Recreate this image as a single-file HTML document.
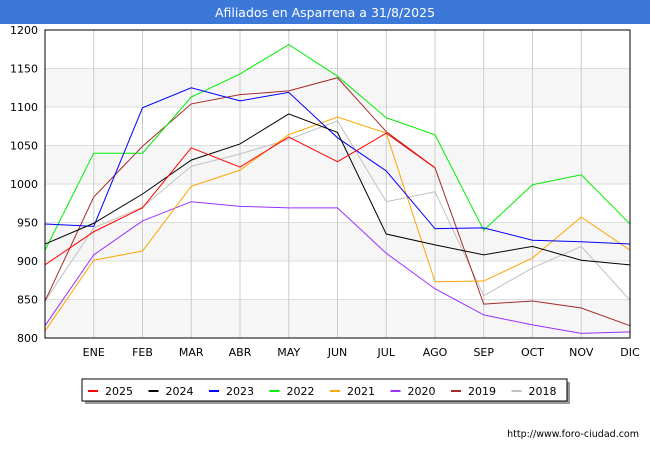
<!DOCTYPE html>
<html><head><meta charset="utf-8"><style>
body{margin:0;width:650px;height:450px;background:#fff;font-family:"DejaVu Sans","Liberation Sans",sans-serif;overflow:hidden}
svg text{font-family:"DejaVu Sans","Liberation Sans",sans-serif}
</style></head><body>
<svg width="650" height="450" xmlns="http://www.w3.org/2000/svg">
<rect x="0" y="0" width="650" height="24" fill="#3c78d8"/>
<text x="325" y="17" text-anchor="middle" fill="#fff" font-size="12.5">Afiliados en Asparrena a 31/8/2025</text>
<g id="bands"></g><g id="grid"></g><g id="yt"></g><g id="xt"></g><g id="lines"></g>
<rect x="45" y="30" width="585" height="308" fill="none" stroke="#000" stroke-width="1"/>
<rect x="85" y="382" width="485" height="22" fill="#999"/>
<rect x="82" y="379" width="485" height="22" fill="#fff" stroke="#000"/>
<g id="leg"></g>
<text x="639" y="437" text-anchor="end" font-size="9.5" fill="#000">http://www.foro-ciudad.com</text>
</svg>
<script>
const months=["","ENE","FEB","MAR","ABR","MAY","JUN","JUL","AGO","SEP","OCT","NOV","DIC"];
const yTicks=[800,850,900,950,1000,1050,1100,1150,1200];
const names=["2025","2024","2023","2022","2021","2020","2019","2018"];
const colors=["#ff0000","#000000","#0000ff","#00ee00","#ffa500","#9b30ff","#a52a2a","#c0c0c0"];
const s2025=[895,938,969,1047,1022,1061,1029,1066,1021];
const s2024=[922,949,987,1031,1052,1091,1067,935,921,908,919,901,895];
const s2023=[948,945,1099,1125,1108,1119,1060,1017,942,943,927,925,922];
const s2022=[914,1040,1040,1113,1143,1181,1140,1086,1064,940,999,1012,948];
const s2021=[809,901,913,997,1018,1064,1087,1066,873,874,904,957,914];
const s2020=[816,908,952,977,971,969,969,910,864,830,817,806,808];
const s2019=[848,983,1049,1104,1116,1121,1138,1068,1021,844,848,839,816];
const s2018=[848,943,970,1023,1039,1058,1082,977,990,855,891,919,849];
const series=[s2025,s2024,s2023,s2022,s2021,s2020,s2019,s2018];
const NS="http://www.w3.org/2000/svg";
const X=i=>45+i*(585/12), Y=v=>338-(v-800)*308/400;
function mk(p,t,a){const e=document.createElementNS(NS,t);for(const k in a)e.setAttribute(k,a[k]);document.getElementById(p).appendChild(e);return e;}
for(let i=0;i<yTicks.length-1;i++){if(i%2==0){const b=mk('bands','rect',{x:45,y:Y(yTicks[i+1]),width:585,height:Y(yTicks[i])-Y(yTicks[i+1]),fill:'#f6f6f6'});

}}
yTicks.forEach(v=>{const l=mk('grid','line',{x1:45,x2:630,y1:Y(v),y2:Y(v),stroke:'#ddd'});


const t=mk('yt','text',{x:38,y:Y(v)+4,'text-anchor':'end','font-size':11,fill:'#000'});t.textContent=v;

});
months.forEach((m,i)=>{if(i>0){const l=mk('grid','line',{x1:X(i),x2:X(i),y1:30,y2:338,stroke:'#ccc'});


const t=mk('xt','text',{x:X(i),y:356,'text-anchor':'middle','font-size':11,fill:'#000'});t.textContent=m;

}});
for(let k=series.length-1;k>=0;k--){const p=mk('lines','polyline',{points:series[k].map((v,i)=>X(i)+','+Y(v)).join(' '),fill:'none',stroke:colors[k],'stroke-width':1});

}
names.forEach((n,k)=>{const x0=88+k*60.5;const l=mk('leg','line',{x1:x0,x2:x0+10,y1:391,y2:391,stroke:colors[k],'stroke-width':2});


const t=mk('leg','text',{x:x0+17,y:395,'font-size':11,fill:'#000'});t.textContent=n;

});
</script>
</body></html>
